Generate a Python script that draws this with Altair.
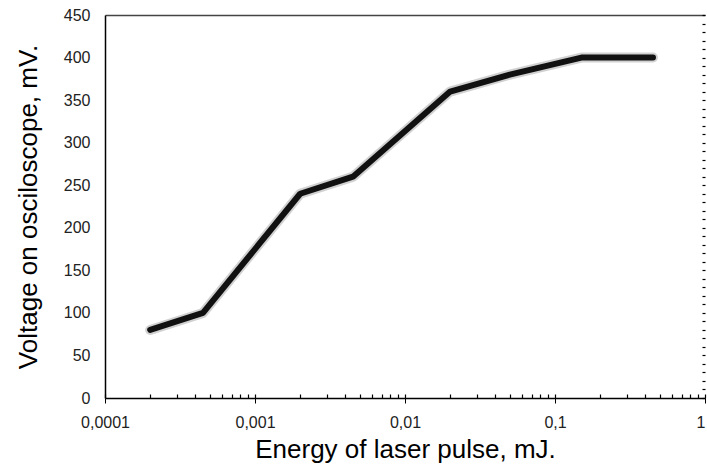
import altair as alt
import pandas as pd

energy = [0.0002, 0.00045, 0.002, 0.0045, 0.02, 0.05, 0.15, 0.45]
voltage = [80, 100, 240, 260, 360, 380, 400, 400]

x_major = [0.0001, 0.001, 0.01, 0.1, 1]
x_minor = [m * d for d in [0.0001, 0.001, 0.01, 0.1] for m in range(1, 10)] + [1]
y_ticks = list(range(0, 451, 50))
y_minor = list(range(0, 451, 10))

df = pd.DataFrame({"energy": energy, "voltage": voltage})

FONT = "Liberation Sans"
xscale = alt.Scale(type="log", domain=[0.0001, 1], nice=False)
yscale = alt.Scale(domain=[0, 450], nice=False, zero=True)

base = alt.Chart(df)

main = base.mark_line(color="#111111", strokeWidth=6, strokeCap="round", strokeJoin="round").encode(
    x=alt.X("energy:Q", scale=xscale,
            axis=alt.Axis(orient="bottom", values=x_major, grid=False, tickSize=5, tickColor="black",
                          domainColor="black", domainWidth=1.5, labelFont=FONT, labelFontSize=16,
                          labelColor="#222222", labelPadding=11, labelFlush=False, labelOverlap=False,
                          labelAlign=alt.ExprRef("datum.value >= 1 ? 'right' : 'center'"),
                          labelExpr="replace(format(datum.value, '~g'), '.', ',')",
                          title="Energy of laser pulse, mJ.", titleFont=FONT, titleFontSize=26,
                          titleFontWeight="normal", titleColor="black", titlePadding=6)),
    y=alt.Y("voltage:Q", scale=yscale,
            axis=alt.Axis(orient="left", values=y_ticks, grid=False, ticks=False, domainColor="black",
                          domainWidth=1.5, labelFont=FONT, labelFontSize=16, labelColor="#222222",
                          labelPadding=15, title="Voltage on osciloscope, mV.", titleFont=FONT,
                          titleFontSize=26, titleFontWeight="normal", titleColor="black",
                          titlePadding=22)),
)

halo = base.mark_line(color="black", strokeWidth=10, opacity=0.18, strokeCap="round", strokeJoin="round").encode(
    x=alt.X("energy:Q", scale=xscale,
            axis=alt.Axis(orient="bottom", values=x_minor, offset=-4, domain=False, labels=False,
                          grid=False, tickSize=4, tickColor="black", tickWidth=1.2, title=None)),
    y=alt.Y("voltage:Q", scale=yscale,
            axis=alt.Axis(orient="right", values=y_minor, offset=-3, domain=False, labels=False,
                          grid=False, tickSize=3, tickColor="black", tickWidth=1.2, title=None)),
)

top = base.mark_line(opacity=0).encode(
    x=alt.X("energy:Q", scale=xscale,
            axis=alt.Axis(orient="top", domain=True, domainColor="#444444", domainWidth=1.5,
                          ticks=False, labels=False, grid=False, title=None)),
    y=alt.Y("voltage:Q", scale=yscale, axis=None),
)

chart = alt.layer(halo, main, top).resolve_axis(x="independent", y="independent").properties(
    width=600, height=383,
    autosize=alt.AutoSizeParams(type="none"),
    padding={"left": 105, "top": 15, "right": 2, "bottom": 72},
    background="white",
).configure_view(stroke=None)

chart.save("out.html", embed_options={"renderer": "svg", "actions": False})
